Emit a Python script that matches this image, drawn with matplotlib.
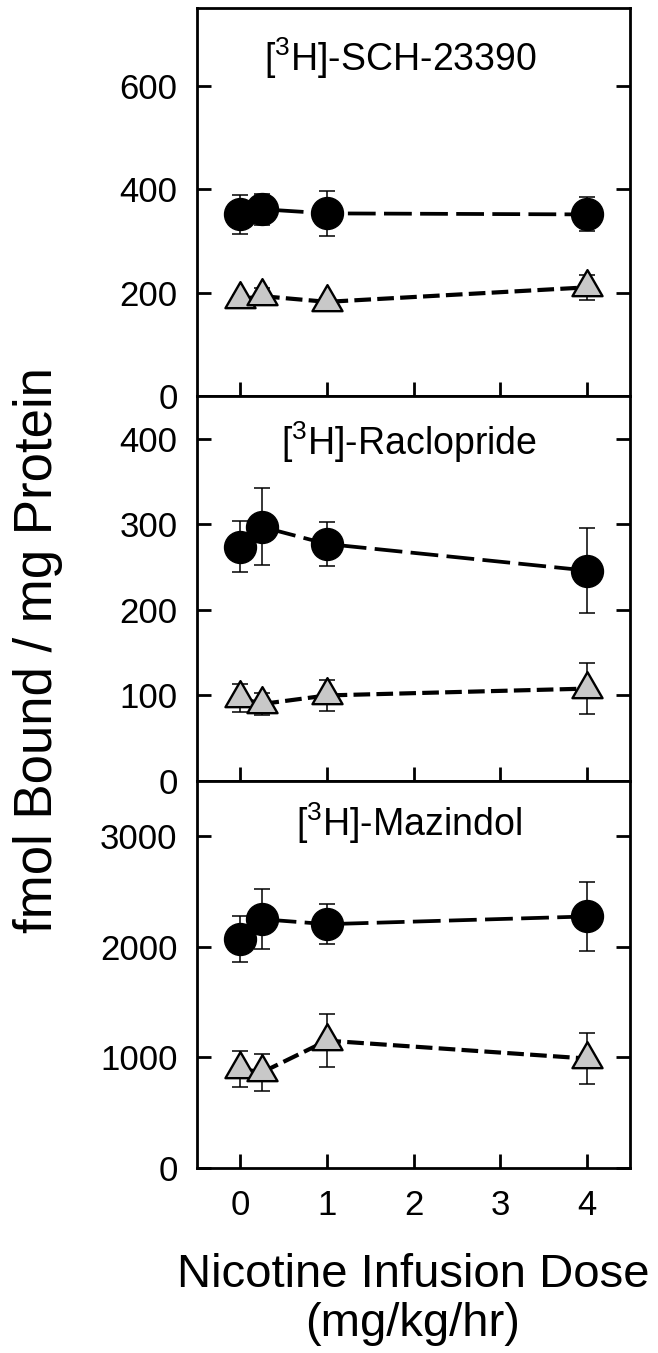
import matplotlib
matplotlib.use("Agg")
import matplotlib.pyplot as plt
from matplotlib.path import Path
import numpy as np

plt.rcParams['font.family'] = ['Liberation Sans', 'DejaVu Sans']
plt.rcParams['mathtext.fontset'] = 'custom'
plt.rcParams['mathtext.rm'] = 'Liberation Sans'
plt.rcParams['mathtext.default'] = 'regular'
plt.rcParams['lines.scale_dashes'] = False

# nicotine dose (mg/kg/hr)
dose = [0, 0.25, 1, 4]
x_ticks = [0, 1, 2, 3, 4]

# [3H]-SCH-23390
sch_circle = [351, 361, 353, 351]
sch_circle_err = [37, 30, 44, 33]
sch_tri = [187, 193, 182, 210]
sch_tri_err = [8, 15, 8, 24]

# [3H]-Raclopride
rac_circle = [274, 297, 277, 246]
rac_circle_err = [30, 45, 26, 50]
rac_tri = [97, 90, 100, 108]
rac_tri_err = [16, 13, 18, 30]

# [3H]-Mazindol
maz_circle = [2070, 2250, 2205, 2275]
maz_circle_err = [205, 270, 183, 308]
maz_tri = [897, 865, 1152, 990]
maz_tri_err = [163, 165, 237, 227]

panels = [
    (r'[$^{3}$H]-SCH-23390', sch_circle, sch_circle_err, sch_tri, sch_tri_err,
     750, [0, 200, 400, 600], 0.469, 0.871),
    (r'[$^{3}$H]-Raclopride', rac_circle, rac_circle_err, rac_tri, rac_tri_err,
     450, [0, 100, 200, 300, 400], 0.49, 0.881),
    (r'[$^{3}$H]-Mazindol', maz_circle, maz_circle_err, maz_tri, maz_tri_err,
     3500, [0, 1000, 2000, 3000], 0.49, 0.891),
]

# triangle with its centroid on the data point
tri_marker = Path([(0, 1.155), (-1, -0.577), (1, -0.577), (0, 1.155)], closed=True)

W, H = 658, 1353
fig = plt.figure(figsize=(W / 100, H / 100), dpi=100)

edges = [(8, 396), (396, 781), (781, 1168)]
left, right = 197, 630

for n, (title, circ, circ_err, tri, tri_err, ymax, yticks, tx, ty) in enumerate(panels):
    top, bottom = edges[n]
    ax = fig.add_axes([left / W, 1 - bottom / H, (right - left) / W, (bottom - top) / H])

    ax.errorbar(dose, circ, yerr=circ_err, fmt='none', ecolor='black', elinewidth=1.1,
                capsize=6, capthick=1.1, zorder=2)
    ax.errorbar(dose, tri, yerr=tri_err, fmt='none', ecolor='black', elinewidth=1.1,
                capsize=6, capthick=1.1, zorder=2)

    ax.plot(dose, circ, color='black', lw=2.7, dashes=(20, 6), zorder=3)
    ax.plot(dose, tri, color='black', lw=3.0, dashes=(12, 4.5), zorder=3)

    ax.plot(dose, circ, linestyle='none', marker='o', ms=23, mfc='black', mec='black',
            mew=1.0, zorder=4)
    ax.plot(dose, tri, linestyle='none', marker=tri_marker, ms=25, mfc='#c8c8c8',
            mec='black', mew=1.7, zorder=5)

    ax.set_xlim(-0.5, 4.5)
    ax.set_ylim(0, ymax)
    ax.set_xticks(x_ticks)
    ax.set_yticks(yticks)
    ax.tick_params(axis='both', direction='in', length=10, width=2, labelsize=25)
    ax.tick_params(axis='y', right=True, pad=14)
    ax.tick_params(axis='x', pad=15)
    if n < 2:
        ax.set_xticklabels([])
    for sp in ax.spines.values():
        sp.set_linewidth(2)

    ax.text(tx, ty, title, transform=ax.transAxes, ha='center', va='center', fontsize=27)

fig.text(52 / W, 1 - 650 / H, 'fmol Bound / mg Protein', rotation=90, rotation_mode='anchor',
         ha='center', va='baseline', fontsize=38)
fig.text(413 / W, 1 - 1287 / H, 'Nicotine Infusion Dose', ha='center', va='baseline', fontsize=34)
fig.text(413 / W, 1 - 1336 / H, '(mg/kg/hr)', ha='center', va='baseline', fontsize=34)

fig.savefig('out.png', dpi=100)
